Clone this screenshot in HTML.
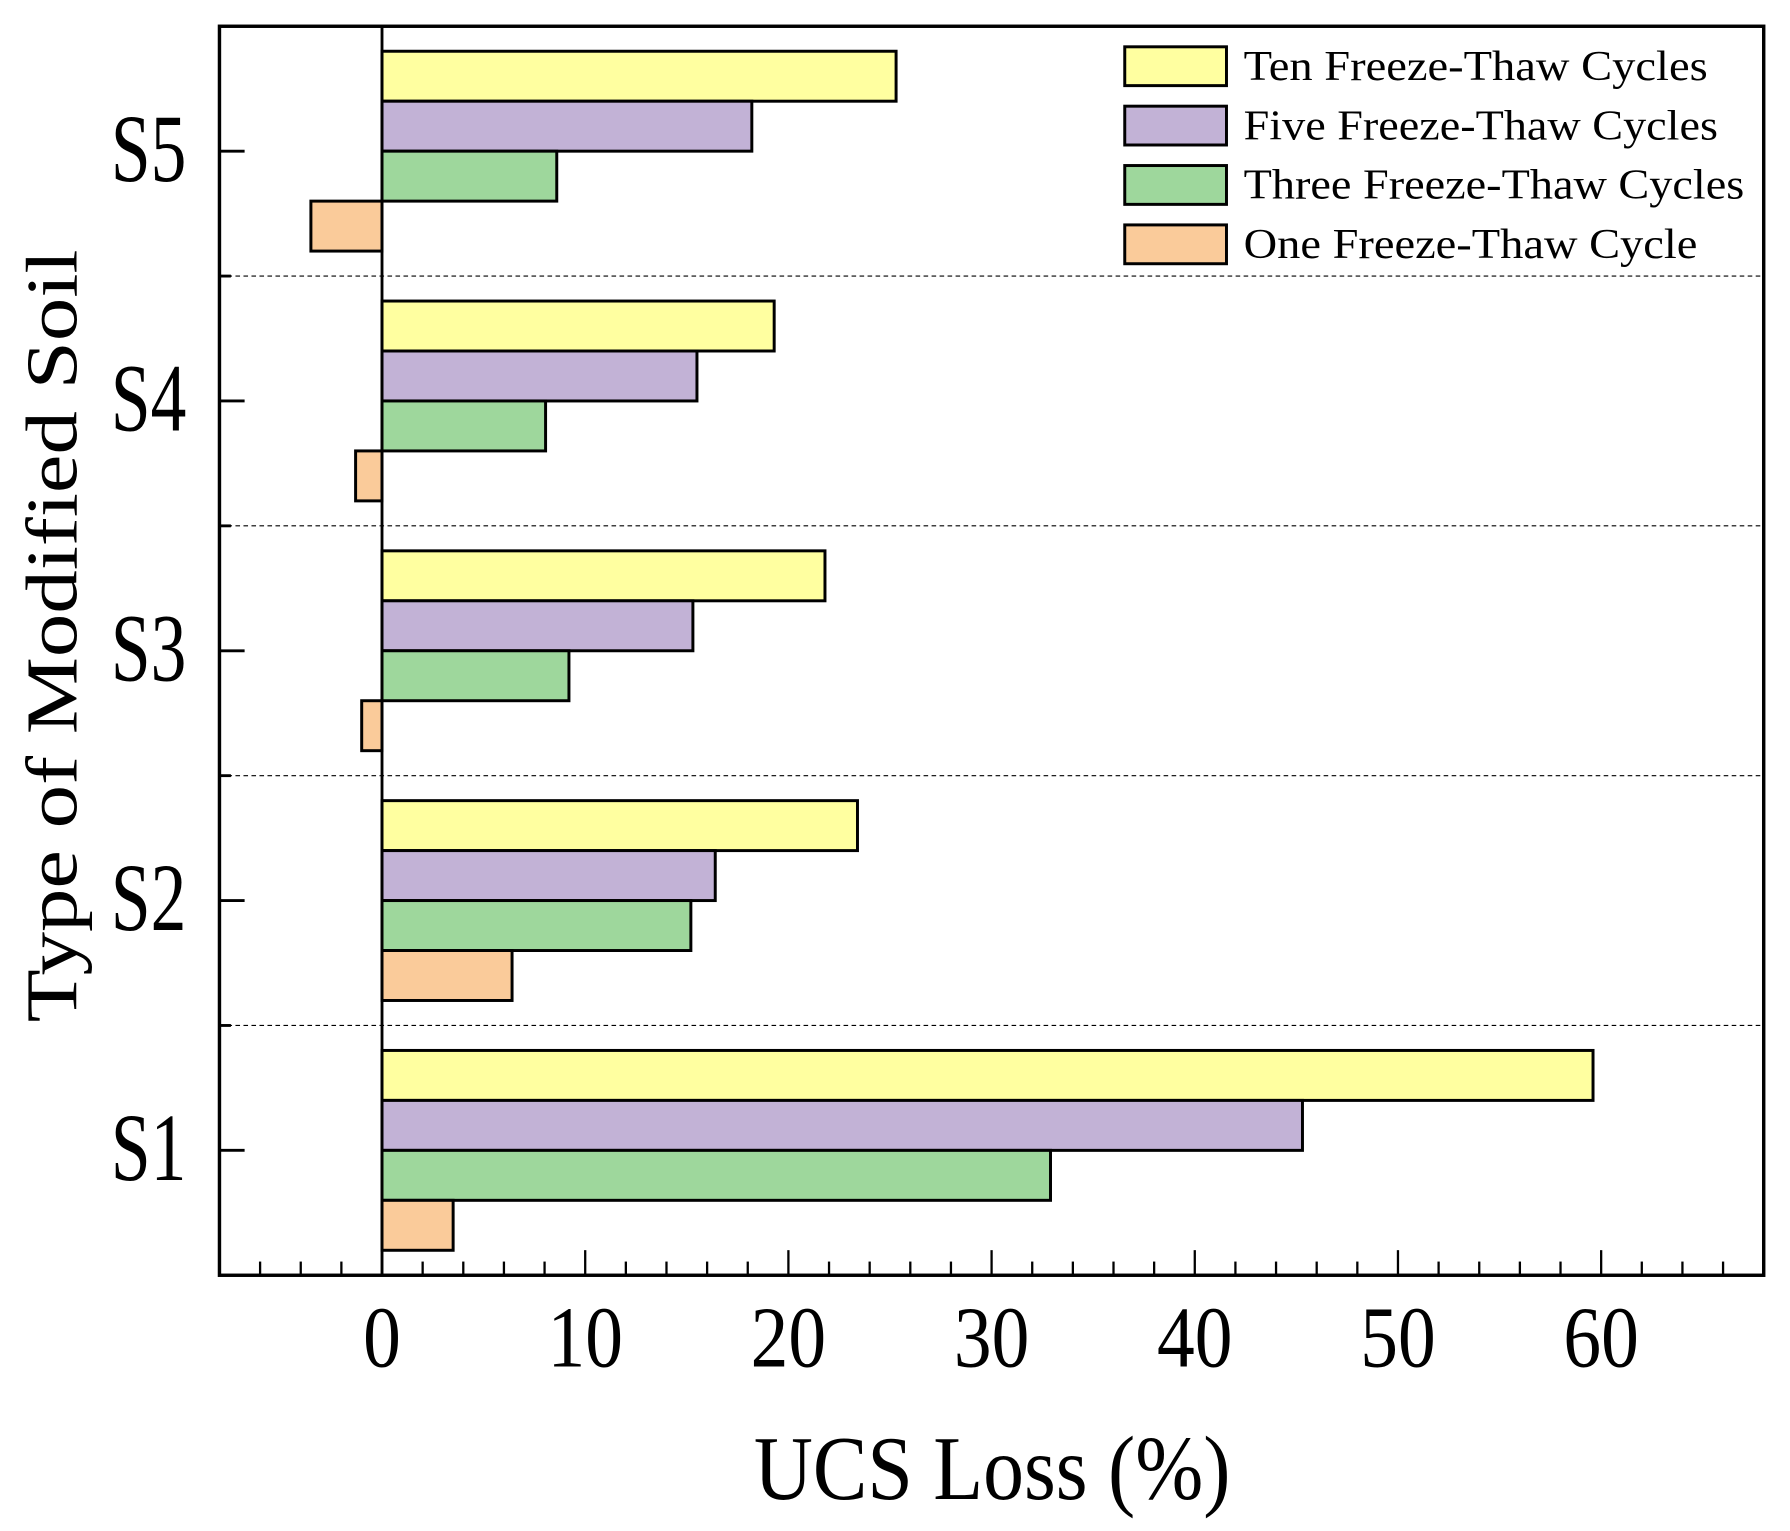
<!DOCTYPE html>
<html><head><meta charset="utf-8"><style>
html,body{margin:0;padding:0;background:#fff;width:1790px;height:1531px;overflow:hidden}
svg{display:block}
text{font-family:"Liberation Serif",serif;fill:#000}
</style></head><body>
<svg id="chart" width="1790" height="1531" viewBox="0 0 1566 1341" preserveAspectRatio="none" xmlns="http://www.w3.org/2000/svg"></svg>
<script>
const categories = ["S1","S2","S3","S4","S5"];
const seriesNames = ["Ten Freeze-Thaw Cycles","Five Freeze-Thaw Cycles","Three Freeze-Thaw Cycles","One Freeze-Thaw Cycle"];
const tenValues = [59.6, 23.4, 21.8, 19.3, 25.3];
const fiveValues = [45.3, 16.4, 15.3, 15.5, 18.2];
const threeValues = [32.9, 15.2, 9.2, 8.05, 8.6];
const oneValues = [3.5, 6.4, -1.0, -1.3, -3.5];
const xTickLabels = [0, 10, 20, 30, 40, 50, 60];

const colors = ["#FFFFA0","#C2B2D6","#9ED79C","#FACB9A"];
const series = [tenValues, fiveValues, threeValues, oneValues];
const NS = "http://www.w3.org/2000/svg";
const svg = document.getElementById('chart');
const L=192, T=23, R=1543, B=1117;
const xMin=-8, xMax=68, yMin=0.5, yMax=5.5;
function xs(v){return L+(v-xMin)/(xMax-xMin)*(R-L);}
function ys(v){return B-(v-yMin)/(yMax-yMin)*(B-T);}
function mk(tag, attrs, parent){const e=document.createElementNS(NS,tag);for(const k in attrs)e.setAttribute(k,attrs[k]);(parent||svg).appendChild(e);return e;}

for(let i=1;i<categories.length;i++){
  const y=ys(i+0.5);
  const d=mk('line',{x1:L,x2:R,y1:y,y2:y,stroke:'#000','stroke-width':1,'stroke-dasharray':'4,3'});
  
  
}
const band=(ys(1)-ys(2))*0.8, bh=band/4;
categories.forEach((c,ci)=>{
  const top=ys(ci+1)-band/2;
  series.forEach((arr,si)=>{
    const v=arr[ci];
    const x0=Math.min(xs(0),xs(v)), w=Math.abs(xs(v)-xs(0));
    const r=mk('rect',{x:x0,y:top+si*bh,width:w,height:bh,fill:colors[si],stroke:'#000','stroke-width':2.6});
    
    
  });
});
const z=mk('line',{x1:xs(0),x2:xs(0),y1:T,y2:B,stroke:'#000','stroke-width':2.5});


const f=mk('rect',{x:L,y:T,width:R-L,height:B-T,fill:'none',stroke:'#000','stroke-width':3});


for(let v=-6; v<xMax; v+=2){
  const major=(v%10===0 && v>=0);
  const t=mk('line',{x1:xs(v),x2:xs(v),y1:B,y2:B-(major?22:12),stroke:'#000','stroke-width':2});
  
  
}
xTickLabels.forEach(v=>{
  const n=String(v).length;
  const t=mk('text',{x:xs(v),y:1197,'font-size':76,'text-anchor':'middle',textLength:33*n,lengthAdjust:'spacingAndGlyphs'});
  t.textContent=v;
  
  
});
categories.forEach((c,ci)=>{
  const y=ys(ci+1);
  const t=mk('line',{x1:L,x2:L+22,y1:y,y2:y,stroke:'#000','stroke-width':2.5});
  
  
  const lb=mk('text',{x:163,y:y+26,'font-size':84,'text-anchor':'end',textLength:66,lengthAdjust:'spacingAndGlyphs'});
  lb.textContent=c;
  
  
});
for(let i=1;i<categories.length;i++){
  const t=mk('line',{x1:L,x2:L+10,y1:ys(i+0.5),y2:ys(i+0.5),stroke:'#000','stroke-width':2.5});
  
  
}
const xt=mk('text',{x:868,y:1313,'font-size':80,'text-anchor':'middle',textLength:417,lengthAdjust:'spacingAndGlyphs'});
xt.textContent='UCS Loss (%)';


const yt=mk('text',{x:0,y:0,'font-size':64,'text-anchor':'middle',textLength:677,lengthAdjust:'spacingAndGlyphs',transform:'translate(67,557) rotate(-90)'});
yt.textContent='Type of Modified Soil';


const legendWidths=[406,415,438,397];
seriesNames.forEach((n,i)=>{
  const cy=58+i*52;
  const g=mk('g',{});
  
  
  mk('rect',{x:984,y:cy-17,width:89,height:34,fill:colors[i],stroke:'#000','stroke-width':2.6},g);
  const t=mk('text',{x:1088,y:cy+12,'font-size':37,textLength:legendWidths[i],lengthAdjust:'spacingAndGlyphs'},g);
  t.textContent=n;
});
</script>
</body></html>
